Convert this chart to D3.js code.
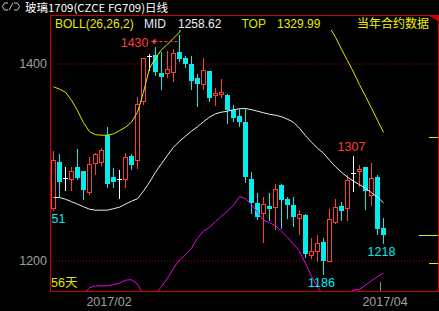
<!DOCTYPE html>
<html>
<head>
<meta charset="utf-8">
<script src="https://cdn.jsdelivr.net/npm/d3@7"></script>
<style>
body { margin: 0; background: #000; }
svg { display: block; }
text { font-family: "Liberation Sans", Arial, sans-serif; }
</style>
</head>
<body>
<script>
// daily bars, oldest first (56 days)
var opens  = [1253,1300,1284,1283,1295,1291,1270,1299,1300,1327,1285,1283,1283,1306,1302,1362,1408,1409,1390,1390,
              1391,1412,1406,1400,1385,1379,1392,1368,1369,1368,1353,1347,1341,1283,1258,1248,1255,1254,1277,1262,
              1256,1243,1246,1206,1210,1219,1200,1239,1255,1253,1289,1291,1295,1266,1285,1233];
var closes = [1302,1280,1284,1291,1284,1272,1298,1308,1312,1278,1280,1283,1305,1297,1359,1406,1408,1391,1386,1394,
              1411,1405,1400,1382,1379,1393,1365,1370,1371,1353,1345,1341,1285,1258,1244,1257,1252,1273,1261,1256,
              1244,1247,1207,1210,1218,1200,1242,1254,1250,1282,1289,1293,1271,1284,1232,1226];
var highs  = [1312,1309,1296,1296,1314,1291,1306,1310,1315,1337,1295,1293,1310,1309,1367,1407,1411,1418,1413,1414,
              1416,1430,1409,1409,1390,1407,1393,1376,1385,1370,1359,1355,1355,1291,1270,1265,1270,1279,1279,1265,
              1265,1252,1248,1224,1227,1224,1253,1263,1260,1288,1307,1298,1295,1300,1288,1244];
var lows   = [1251,1265,1272,1272,1283,1262,1268,1288,1297,1275,1275,1263,1275,1293,1294,1359,1393,1388,1374,1386,
              1382,1403,1396,1374,1357,1374,1362,1358,1366,1340,1342,1337,1280,1248,1242,1219,1241,1232,1233,1243,
              1235,1227,1204,1203,1200,1186,1199,1238,1241,1241,1271,1276,1252,1256,1227,1218];

// BOLL(26,26,2) bands
var bollMid = [1264.0,1264.0,1262.2,1259.7,1257.2,1254.6,1252.1,1251.1,1251.1,1251.1,1252.6,1254.1,1257.2,1260.2,1262.7,
               1270.5,1279.5,1289.6,1298.3,1306.9,1315.0,1321.1,1326.2,1331.3,1335.8,1340.9,1345.5,1349.0,1350.6,1351.6,
               1353.1,1354.1,1354.3,1353.1,1351.6,1350.0,1348.5,1347.5,1346.0,1343.4,1340.4,1334.3,1326.7,1320.1,1314.0,
               1308.9,1301.8,1295.2,1289.6,1284.6,1280.5,1277.0,1273.4,1268.8,1264.3,1258.62];
var bollUp  = [1376.4,1373.9,1370.9,1362.7,1352.1,1339.9,1330.8,1327.7,1327.2,1327.2,1328.7,1331.8,1335.3,1340.4,1350.6,
               1370.9,1395.2,1405.4,1414.0,1419.6,1425.7,1431.8,1446.5,1450.1,1449.0,1452.1,1457.2,1458.6,1456.2,1453.1,
               1450.1,1443.4,1445.7,1449.6,1454.2,1459.1,1458.6,1459.7,1462.3,1463.1,1464.3,1459.2,1456.4,1456.1,1455.1,
               1446.0,1436.9,1426.7,1414.5,1402.8,1391.2,1378.5,1366.8,1354.6,1342.4,1329.99];
var bollDn  = [1151.6,1154.1,1153.5,1156.7,1162.3,1166.0,1172.4,1174.2,1174.2,1174.4,1175.4,1177.0,1180.0,1180.5,1175.9,
               1165.0,1162.0,1166.0,1173.4,1182.0,1192.2,1200.8,1205.9,1212.5,1222.6,1229.7,1233.8,1239.4,1245.0,1250.1,
               1256.1,1264.8,1262.9,1256.6,1249.0,1240.9,1238.4,1235.3,1229.7,1223.7,1216.5,1209.4,1197.0,1184.1,1172.9,
               1165.0,1166.7,1163.7,1164.7,1166.4,1169.8,1170.9,1174.9,1179.5,1183.6,1187.25];

var yTicks = [1200, 1400];
var dateLabels = ["2017/02", "2017/04"];
var dateIdx = [9, 55];
// high / low marks shown on the chart
var markIdx  = [0, 21, 45, 50, 55];
var markType = ["low", "high", "low", "high", "low"];
// contract year levels on the right edge
var yearLevels = [1325, 1226, 1197];

var title = "玻璃1709(CZCE FG709)日线";

var width = 439, height = 311;
var left = 50, right = 438, plotTop = 30, bottom = 291;

var RED = "#ff3c3c", CYAN = "#00eeee", YELLOW = "#e6e600", FRAME = "#cc0000";

var svg = d3.select("body").append("svg")
    .attr("width", width)
    .attr("height", height)
    .style("background", "#000");

// scales
var x = d3.scaleBand().domain(d3.range(opens.length)).range([left, left + 6 * opens.length]);
var y = d3.scaleLinear().domain([1200, 1400]).range([260.5, 63.5]);
function cx(i) { return x(i) + 3.5; }
function py(v) { return Math.round(y(v)) + 0.5; }

svg.append("defs").append("clipPath").attr("id", "clip")
  .append("rect")
    .attr("x", left + 1).attr("y", plotTop)
    .attr("width", right - left - 1).attr("height", bottom - plotTop);

// grid (dotted) + price labels
svg.append("g")
    .attr("class", "grid")
    .attr("transform", "translate(" + left + ",0)")
    .call(d3.axisRight(y).tickValues(yTicks).tickSize(right - left).tickFormat(""))
    .call(function(g) {
        g.select(".domain").remove();
        g.selectAll("line").attr("stroke", "#a00000").attr("stroke-dasharray", "1,2");
    });

svg.append("g")
    .attr("transform", "translate(" + left + ",0)")
    .call(d3.axisLeft(y).tickValues(yTicks).tickSize(0).tickPadding(3).tickFormat(d3.format("d")))
    .call(function(g) {
        g.select(".domain").remove();
        g.selectAll("text").attr("fill", "#9aa0a8").style("font-size", "12.5px")
            .style("font-family", "Liberation Sans, Arial, sans-serif");
    });

// date labels
svg.append("g")
    .attr("transform", "translate(0," + bottom + ")")
    .call(d3.axisBottom(x).tickValues(dateIdx).tickSize(0).tickPadding(6)
        .tickFormat(function(d, k) { return dateLabels[k]; }))
    .call(function(g) {
        g.select(".domain").remove();
        g.selectAll("text").attr("fill", "#a0a0a0").attr("dx", 2).style("font-size", "12.5px")
            .style("font-family", "Liberation Sans, Arial, sans-serif");
    });

var last = dateIdx[dateIdx.length - 1];
svg.append("line")
    .attr("x1", x(last) + 0.5).attr("x2", x(last) + 0.5)
    .attr("y1", bottom - 9).attr("y2", bottom)
    .attr("stroke", "#8a8a8a");

var plot = svg.append("g").attr("clip-path", "url(#clip)");

// candles
var idx = d3.range(opens.length);
var c = plot.selectAll(".candle")
    .data(idx)
  .enter().append("g")
    .attr("class", "candle")
    .attr("shape-rendering", "crispEdges");

function colorOf(i) {
    if (closes[i] > opens[i]) return RED;
    if (closes[i] < opens[i]) return CYAN;
    return "#ffffff";
}

c.append("line")
    .attr("x1", cx).attr("x2", cx)
    .attr("y1", function(i) { return py(highs[i]); })
    .attr("y2", function(i) { return py(lows[i]); })
    .attr("stroke", colorOf);

c.each(function(i) {
    var g = d3.select(this);
    if (closes[i] > opens[i]) {
        g.append("rect")
            .attr("x", x(i) + 1.5).attr("width", 4)
            .attr("y", py(closes[i]))
            .attr("height", Math.max(1, py(opens[i]) - py(closes[i])))
            .attr("fill", "#000").attr("stroke", RED);
    } else if (closes[i] < opens[i]) {
        g.append("rect")
            .attr("x", x(i) + 1).attr("width", 5)
            .attr("y", Math.round(y(opens[i])))
            .attr("height", Math.max(1, Math.round(y(closes[i])) - Math.round(y(opens[i]))))
            .attr("fill", CYAN);
    } else {
        g.append("line")
            .attr("x1", x(i) + 1).attr("x2", x(i) + 6)
            .attr("y1", py(closes[i])).attr("y2", py(closes[i]))
            .attr("stroke", "#ffffff");
    }
});

// bollinger lines
function bandLine(arr) {
    return d3.line().x(function(d, i) { return cx(i); }).y(function(d) { return y(d); })(arr);
}
plot.append("path").attr("d", bandLine(bollUp)).attr("fill", "none").attr("stroke", YELLOW);
plot.append("path").attr("d", bandLine(bollMid)).attr("fill", "none").attr("stroke", "#f0f0f0");
plot.append("path").attr("d", bandLine(bollDn)).attr("fill", "none").attr("stroke", "#f000f0");

// high / low marks
markIdx.forEach(function(i, k) {
    if (markType[k] == "low") {
        plot.append("text")
            .attr("x", cx(i) - 2).attr("y", y(lows[i]) + 13)
            .attr("text-anchor", "middle")
            .attr("fill", CYAN).style("font-size", "12.5px")
            .text(lows[i]);
    } else if (highs[i] == d3.max(highs)) {
        // top mark is drawn with an arrow to the left
        var ay = Math.round(y(highs[i])) + 7.5;
        plot.append("line")
            .attr("x1", cx(i) - 2).attr("x2", cx(i) - 28)
            .attr("y1", ay).attr("y2", ay)
            .attr("stroke", RED).attr("stroke-dasharray", "3,2");
        plot.append("path")
            .attr("d", "M" + (cx(i) - 28) + "," + ay + "l4,-3v6z")
            .attr("fill", RED);
        plot.append("text")
            .attr("x", cx(i) - 31).attr("y", ay + 5)
            .attr("text-anchor", "end")
            .attr("fill", RED).style("font-size", "12.5px")
            .text(highs[i]);
    } else {
        plot.append("text")
            .attr("x", cx(i) - 2).attr("y", y(highs[i]) - 4)
            .attr("text-anchor", "middle")
            .attr("fill", RED).style("font-size", "12.5px")
            .text(highs[i]);
    }
});

plot.append("text")
    .attr("x", left + 1).attr("y", bottom - 4.5)
    .attr("fill", "#e0e000").style("font-size", "12.5px")
    .style("font-family", "Liberation Sans, 'Noto Sans CJK SC', sans-serif")
    .text(opens.length + "天");

// contract year marks on right edge
svg.selectAll(".yl")
    .data(yearLevels)
  .enter().append("line")
    .attr("x1", function(d, k) { return k == 1 ? right - 19 : right - 9; })
    .attr("x2", right)
    .attr("y1", function(d) { return py(d); })
    .attr("y2", function(d) { return py(d); })
    .attr("stroke", YELLOW)
    .attr("shape-rendering", "crispEdges");

// frame
var frame = svg.append("g").attr("stroke", FRAME).attr("shape-rendering", "crispEdges");
frame.append("line").attr("x1", left).attr("x2", width).attr("y1", 15.5).attr("y2", 15.5);
frame.append("line").attr("x1", left).attr("x2", width).attr("y1", bottom + 0.5).attr("y2", bottom + 0.5);
frame.append("line").attr("x1", left + 0.5).attr("x2", left + 0.5).attr("y1", 15).attr("y2", bottom);
frame.append("line").attr("x1", right + 0.5).attr("x2", right + 0.5).attr("y1", 15).attr("y2", bottom);
svg.append("path").attr("d", "M428,15H439V22Z").attr("fill", FRAME);

// header
svg.append("path")
    .attr("d", "M8,3H4.5L2.5,6.5L4.5,10H8 M9,10L13,3 M14,3H17.5L19.5,6.5L17.5,10H14")
    .attr("fill", "none").attr("stroke", "#c8c8c8");
svg.append("text")
    .attr("x", 25).attr("y", 12.3)
    .attr("fill", "#ffffff").style("font-size", "11px")
    .style("font-family", "'Noto Sans CJK SC', sans-serif")
    .attr("textLength", 143).attr("lengthAdjust", "spacingAndGlyphs")
    .text(title);

var hdr = svg.append("g").style("font-size", "12px");
hdr.append("text").attr("x", 55).attr("y", 27.5).attr("fill", "#e8e800").text("BOLL(26,26,2)");
hdr.append("text").attr("x", 144).attr("y", 27.5).attr("fill", "#e8ecff").text("MID");
hdr.append("text").attr("x", 178).attr("y", 27.5).attr("fill", "#f0f0f0").text(bollMid[bollMid.length - 1].toFixed(2));
hdr.append("text").attr("x", 241.5).attr("y", 27.5).attr("fill", "#d8e400").text("TOP");
hdr.append("text").attr("x", 277).attr("y", 27.5).attr("fill", "#e8e800").text(bollUp[bollUp.length - 1].toFixed(2));
hdr.append("text").attr("x", 357).attr("y", 28)
    .attr("fill", "#f0f000")
    .style("font-family", "'Noto Sans CJK SC', sans-serif")
    .text("当年合约数据");
</script>
</body>
</html>
